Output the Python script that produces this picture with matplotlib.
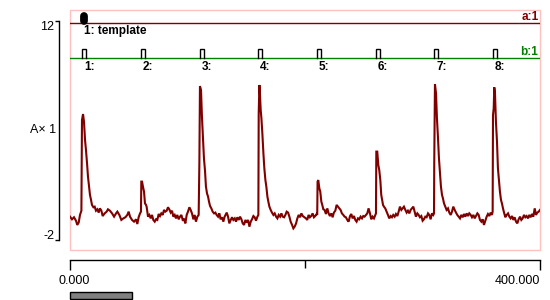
import matplotlib
matplotlib.use("Agg")
import matplotlib.pyplot as plt
from matplotlib.patches import Rectangle

plt.rcParams['font.family'] = ['Liberation Sans', 'DejaVu Sans']

# ---------------- data ----------------
x_range = [0.0, 400.0]
x_tick_labels = ['0.000', '400.000']
y_ticks = [-2, 12]
y_label = 'A\u00d7 1'
channel_a_label = 'a:1'
channel_b_label = 'b:1'
template_label = '1: template'

# event (channel b) start times
event_times = [10.5, 60.6, 110.4, 160.4, 210.4, 260.3, 310.1, 360.2]
event_labels = ['1:', '2:', '3:', '4:', '5:', '6:', '7:', '8:']

trace_time = [
    0.0, 1.7, 3.4, 5.1, 6.2, 7.4, 8.5, 9.7, 10.2, 11.1, 11.9, 12.8, 13.6, 14.5,
    15.3, 16.2, 17.0, 17.9, 18.7, 19.9, 21.0, 22.1, 23.3, 24.4, 25.5, 26.7,
    27.8, 29.5, 31.2, 32.3, 34.0, 35.8, 37.5, 39.2, 40.3, 42.0, 43.7, 45.4,
    47.1, 48.8, 49.9, 51.1, 52.8, 54.5, 56.2, 57.3, 58.4, 59.6, 60.4, 60.7,
    61.3, 62.1, 63.0, 63.8, 64.7,
    65.2, 66.4, 67.5, 68.7, 69.8, 70.9, 72.1, 73.2, 74.3, 75.5, 76.6, 77.7,
    78.9, 80.0, 81.1, 82.3, 83.4, 84.5, 85.7, 86.8, 88.0, 89.1, 90.2, 91.3,
    92.5, 93.6, 94.8, 95.9, 97.0, 98.2, 99.3, 100.4, 101.6, 102.7, 103.8,
    105.0, 106.1, 107.2, 108.4, 109.5, 110.1, 110.6, 111.5, 112.3, 113.2,
    114.0, 114.9, 115.7, 116.6, 117.5, 118.3, 119.2, 120.3, 121.4, 122.6,
    123.7, 124.8, 126.0, 127.1, 128.2, 129.4, 130.5, 131.6,
    133.4, 134.5, 135.6, 136.8, 137.9, 139.0, 140.2, 141.3, 142.4, 143.6,
    144.7, 145.9, 147.0, 148.1, 149.3, 150.4, 151.5, 152.7, 153.8, 154.9,
    156.1, 157.2, 158.3, 159.5, 160.3, 160.6, 161.2, 161.7, 162.3, 162.9,
    163.7, 164.6, 165.4, 166.3, 167.1, 168.0, 168.8, 169.7, 170.8, 171.9,
    173.1, 174.2, 175.4, 176.5, 177.6, 178.8, 179.9, 181.0, 182.2, 183.3,
    184.4, 185.6, 186.7, 187.8, 189.0, 190.1, 191.2, 192.4, 193.5, 194.6,
    195.8, 196.9, 198.1,
    200.8, 201.9, 203.1, 204.2, 205.3, 206.5, 207.6, 208.7, 209.9, 210.4,
    210.7, 211.3, 212.2, 213.0, 213.9, 214.7, 215.6, 216.7, 217.8, 219.0,
    220.1, 221.2, 222.4, 223.5, 224.6, 225.8, 226.9, 228.0, 229.2, 230.3,
    231.4, 232.6, 233.7, 234.8, 236.0, 237.1, 238.3, 239.4, 240.5, 241.7,
    242.8, 243.9, 245.1, 246.2, 247.3, 248.5, 249.6, 250.7, 251.9, 253.0,
    254.1, 255.3, 256.4, 257.5, 258.7, 259.8, 260.4, 260.7, 261.5, 262.4,
    263.2, 264.1, 264.9,
    266.4, 267.2, 268.3, 269.5, 270.6, 271.7, 272.9, 274.0, 275.1, 276.3,
    277.4, 278.6, 279.7, 280.8, 282.0, 283.1, 284.2, 285.4, 286.5, 287.6,
    288.8, 289.9, 291.0, 292.2, 293.3, 294.4, 295.6, 296.7, 297.8, 299.0,
    300.1, 301.2, 302.4, 303.5, 304.7, 305.8, 306.9, 308.1, 309.2, 309.8,
    310.0, 310.6, 311.5, 312.3, 313.2, 314.0, 314.9, 315.7, 316.6, 317.4,
    318.3, 319.4, 320.5, 321.7, 322.8, 324.0, 325.1, 326.2, 327.4, 328.5,
    329.6, 330.8,
    331.9, 333.0, 334.2, 335.3, 336.4, 337.6, 338.7, 339.8, 341.0, 342.1,
    343.3, 344.4, 345.5, 346.7, 347.8, 348.9, 350.1, 351.2, 352.3, 353.5,
    354.6, 355.7, 356.9, 358.0, 359.1, 359.7, 360.0, 360.6, 361.1, 361.7,
    362.5, 363.4, 364.2, 365.1, 365.9, 366.8, 367.6, 368.5, 369.4, 370.5,
    371.6, 372.8, 373.9, 375.0, 376.2, 377.3, 378.4, 379.6, 380.7, 381.8,
    383.0, 384.1, 385.2, 386.4, 387.5, 388.6, 389.8, 390.9, 392.0, 393.2,
    394.3, 395.5, 396.6, 397.7, 398.9, 400.0,
]

trace_value = [
    -0.51, -0.68, -0.55, -0.77, -1.04, -0.89, -0.40, -0.13, 5.67, 6.05, 5.56,
    4.39, 3.75, 2.90, 2.05, 1.41, 0.88, 0.56, 0.24, 0.09, 0.13, -0.13, -0.04,
    -0.25, 0.02, -0.13, -0.47, -0.30, -0.19, -0.04, -0.13, -0.30, -0.51,
    -0.30, -0.19, -0.40, -0.72, -0.62, -0.55, -0.40, -0.19, -0.51, -0.72,
    -0.83, -0.68, -0.98, -0.55, -0.30, -0.19, 1.73, 1.73, 1.41, 1.09, 0.34,
    0.24,
    0.13, -0.51, -0.40, -0.62, -0.40, -0.72, -0.83, -0.68, -0.72, -0.34,
    -0.47, -0.30, -0.40, -0.08, -0.19, -0.13, 0.09, -0.04, -0.25, -0.13,
    -0.51, -0.40, -0.62, -0.40, -0.68, -0.51, -0.40, -0.72, -0.68, -0.94,
    -0.40, -0.19, 0.09, -0.08, -0.30, -0.68, -0.40, -0.83, -0.51, -0.40,
    2.90, 7.84, 7.59, 5.88, 4.50, 3.22, 2.43, 1.41, 0.98, 0.77, 0.45, 0.17,
    0.02, -0.19, -0.30, -0.25, -0.40, -0.51, -0.30, -0.68, -0.55, -0.83,
    -0.51,
    -0.25, -0.51, -0.94, -0.72, -0.55, -0.72, -0.62, -0.83, -0.55, -0.72,
    -0.51, -0.68, -0.94, -1.04, -0.72, -0.89, -0.72, -1.15, -0.83, -0.68,
    -0.47, -0.55, -0.77, -0.51, -0.40, 6.10, 7.91, 7.27, 6.31, 5.78, 4.82,
    3.54, 2.58, 1.83, 1.41, 0.77, 0.45, 0.13, -0.08, -0.25, -0.40, -0.30,
    -0.51, -0.62, -0.40, -0.51, -0.30, -0.51, -0.55, -0.40, -0.19, -0.25,
    -0.51, -0.83, -1.04, -1.26, -1.15, -0.94, -0.62, -0.40, -0.55, -0.30,
    -0.47,
    -0.62, -0.72, -0.40, -0.55, -0.47, -0.30, -0.55, -0.47, -0.34, -0.40,
    1.73, 1.83, 1.30, 1.09, 0.45, 0.24, -0.04, -0.08, -0.34, 0.02, -0.30,
    -0.47, -0.30, -0.55, -0.25, -0.13, 0.24, 0.13, 0.02, -0.08, -0.30,
    -0.40, -0.51, -0.55, -0.72, -0.83, -0.47, -0.34, -0.62, -0.47, -0.72,
    -0.83, -0.62, -0.68, -0.51, -0.62, -0.47, -0.51, -0.40, -0.30, 0.02,
    -0.30, -0.68, -0.51, -0.62, -0.40, -0.30, 3.65, 3.65, 2.79, 2.47, 1.83,
    0.88,
    0.24, 0.13, 0.02, -0.19, -0.40, -0.62, -0.47, -0.55, -0.40, -0.51, -0.34,
    -0.47, -0.19, 0.13, -0.08, 0.02, 0.13, -0.08, -0.25, -0.13, -0.30, -0.08,
    0.02, 0.13, -0.19, -0.51, -0.30, -0.40, -0.55, -0.47, -0.77, -0.68,
    -0.51, -0.55, -0.30, -0.40, -0.68, -0.30, -0.40, -0.30, 2.90, 7.97, 7.38,
    5.78, 4.50, 3.22, 2.26, 1.41, 0.88, 0.66, 0.34, 0.13, -0.08, 0.02, -0.25,
    -0.40, -0.19, 0.13, -0.08, -0.25, -0.40, -0.51,
    -0.62, -0.40, -0.55, -0.34, -0.51, -0.30, -0.47, -0.30, -0.40, -0.55,
    -0.40, -0.62, -0.47, -0.30, -0.40, -0.72, -0.83, -0.68, -1.04, -0.77,
    -0.51, -0.34, -0.47, -0.25, -0.40, -0.19, 5.99, 6.42, 7.76, 7.38, 5.56,
    4.29, 2.58, 1.83, 1.09, 0.56, 0.34, 0.02, -0.25, -0.55, -0.40, -0.30,
    -0.51, -0.62, -0.47, -0.72, -0.55, -0.83, -0.94, -0.68, -0.51, -0.72,
    -0.62, -0.40, -0.55, -0.47, -0.62, -0.40, -0.55, -0.34, -0.51, 0.02,
    -0.40, -0.25, -0.19, -0.08,
]

# ---------------- figure ----------------
W, H, DPI = 550, 300, 100
fig = plt.figure(figsize=(W / DPI, H / DPI), dpi=DPI)
fig.patch.set_facecolor('white')

L, R, T, B = 70, 540, 10, 250
pos = [L / W, 1 - B / H, (R - L) / W, (B - T) / H]
PX = 0.72  # points per pixel

ax = fig.add_axes(pos)
ax.set_xlim(*x_range)
ax.set_ylim(-2.642, 12.703)
ax.plot(trace_time, trace_value, color='#800000', lw=1.5, solid_joinstyle='miter')
for s in ['top', 'right', 'bottom']:
    ax.spines[s].set_visible(False)
ax.spines['left'].set_position(('outward', 11 * PX))
ax.spines['left'].set_bounds(y_ticks[0], y_ticks[-1])
ax.spines['left'].set_color('black')
ax.spines['left'].set_linewidth(1)
ax.set_xticks([])
ax.set_yticks(y_ticks)
ax.tick_params(axis='y', direction='out', length=4 * PX, width=1,
               labelleft=False)
ax.add_patch(Rectangle((0, 0), 1, 1, transform=ax.transAxes, fill=False,
                       ec='#ffc0c0', lw=1, clip_on=False))
ax.annotate(str(y_ticks[-1]), xy=(0, y_ticks[-1]),
            xycoords=('axes fraction', 'data'), xytext=(-15.5 * PX, 0),
            textcoords='offset points', ha='right', va='top', fontsize=9)
ax.annotate(str(y_ticks[0]), xy=(0, y_ticks[0]),
            xycoords=('axes fraction', 'data'), xytext=(-15 * PX, -2 * PX),
            textcoords='offset points', ha='right', va='bottom', fontsize=9)
fig.text(30 / W, 1 - 130 / H, y_label, ha='left', va='center', fontsize=9)

# overlay for channels a and b (y in pixel rows)
ax2 = fig.add_axes(pos, zorder=3)
ax2.set_xlim(*x_range)
ax2.set_ylim(B, T)
ax2.axis('off')
ax2.patch.set_visible(False)
ax2.axhline(23, color='#800000', lw=1)
ax2.axhline(58, color='#008000', lw=1)
tpp = (x_range[1] - x_range[0]) / (R - L)  # time per pixel
pw = 4 * tpp
for e, lab in zip(event_times, event_labels):
    ax2.plot([e, e, e + pw, e + pw], [58, 49, 49, 58], color='black', lw=1,
             solid_joinstyle='miter')
    ax2.text(e + 1.7 * tpp, 60.5, lab, ha='left', va='top', fontsize=8.5,
             fontweight='bold')
ax2.plot([event_times[0] + pw / 2] * 2, [15.5, 20.5], color='black', lw=5.6,
         solid_capstyle='round')
ax2.text(event_times[0] + 1.7 * tpp, 25.0, template_label, ha='left',
         va='top', fontsize=8.5, fontweight='bold')
ax2.annotate(channel_a_label, xy=(1, 11.0), xycoords=('axes fraction', 'data'),
             xytext=(-1.5 * PX, 0), textcoords='offset points', ha='right',
             va='top', fontsize=8.5, fontweight='bold', color='#800000')
ax2.annotate(channel_b_label, xy=(1, 46.0), xycoords=('axes fraction', 'data'),
             xytext=(-1.5 * PX, 0), textcoords='offset points', ha='right',
             va='top', fontsize=8.5, fontweight='bold', color='#008000')

# x axis below
axx = fig.add_axes([L / W, 1 - 260 / H, (R - L) / W, 0.01])
axx.set_xlim(*x_range)
axx.patch.set_visible(False)
for s in ['top', 'right', 'left']:
    axx.spines[s].set_visible(False)
axx.spines['bottom'].set_linewidth(1)
axx.set_yticks([])
axx.set_xticks(x_range)
axx.set_xticks([(x_range[0] + x_range[1]) / 2], minor=True)
axx.tick_params(axis='x', which='major', direction='out', length=10 * PX,
                width=1, labelbottom=False)
axx.tick_params(axis='x', which='minor', direction='out', length=8 * PX,
                width=1, labelbottom=False)
axx.annotate(x_tick_labels[0], xy=(x_range[0], 0),
             xycoords=('data', 'axes fraction'), xytext=(4 * PX, -15.5 * PX),
             textcoords='offset points', ha='center', va='top', fontsize=9)
axx.annotate(x_tick_labels[1], xy=(x_range[1], 0),
             xycoords=('data', 'axes fraction'), xytext=(0, -15.5 * PX),
             textcoords='offset points', ha='right', va='top', fontsize=9)

# scroll bar
fig.add_artist(Rectangle((70 / W, 1 - 299 / H), 62 / W, 7 / H,
                         transform=fig.transFigure, fc='#808080', ec='black',
                         lw=1))

fig.savefig('out.png', dpi=DPI)
